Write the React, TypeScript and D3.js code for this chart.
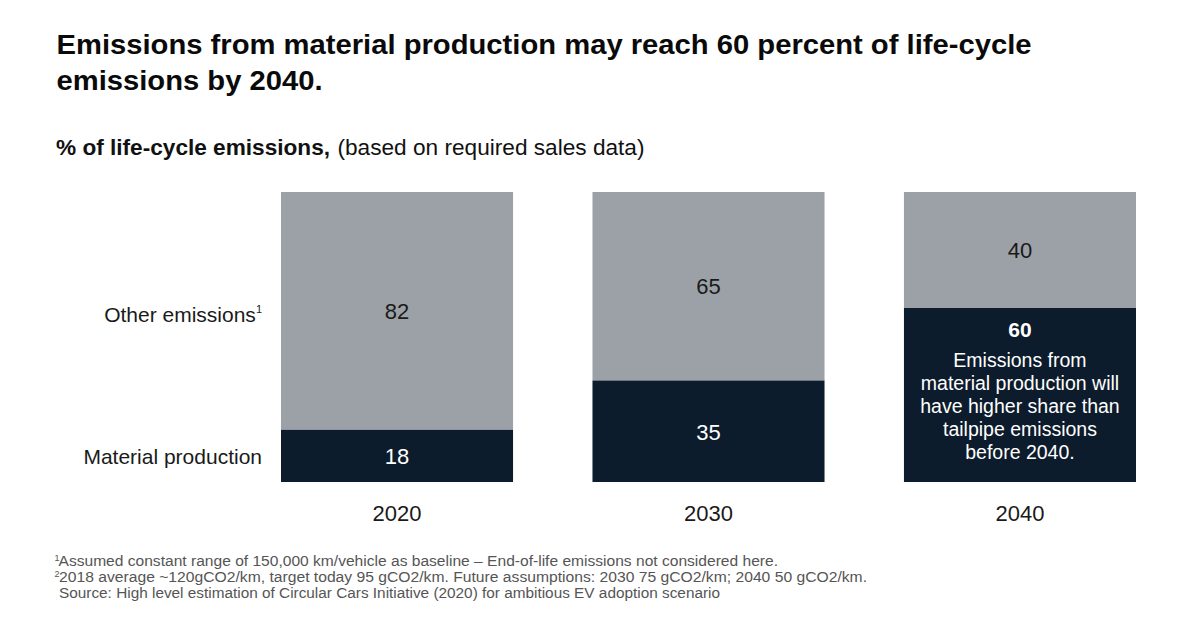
import React from "react";
import * as d3 from "d3";

const years = ["2020", "2030", "2040"];
const material = [18, 35, 60];
const other = [82, 65, 40];
const seriesLabels = ["Other emissions", "Material production"];
const annotationLines = [
  "Emissions from",
  "material production will",
  "have higher share than",
  "tailpipe emissions",
  "before 2040.",
];
const titleLines = [
  "Emissions from material production may reach 60 percent of life-cycle",
  "emissions by 2040.",
];
const subtitleBold = "% of life-cycle emissions,";
const subtitleRegular = "(based on required sales data)";
const footnotes = [
  { sup: "1", text: "Assumed constant range of 150,000 km/vehicle as baseline – End-of-life emissions not considered here." },
  { sup: "2", text: "2018 average ~120gCO2/km, target today 95 gCO2/km. Future assumptions: 2030 75 gCO2/km; 2040 50 gCO2/km." },
  { sup: "", text: "Source: High level estimation of Circular Cars Initiative (2020) for ambitious EV adoption scenario" },
];

const GRAY = "#9ca1a7";
const NAVY = "#0d1c2c";
const FONT = "'Liberation Sans', Arial, Helvetica, sans-serif";

export default function App() {
  const x = d3.scaleBand<string>().domain(years).range([281, 1136]).paddingInner(0.255).paddingOuter(0);
  const y = d3.scaleLinear().domain([0, 100]).range([482, 192]);
  const bw = x.bandwidth();

  const titleWidths = [975, 266];
  const footStarts = [58.5, 59, 59];
  const footEnds = [778, 867, 720];

  return (
    <svg
      width={1200}
      height={632}
      style={{ position: "absolute", left: 0, top: 0, background: "#fff" }}
      fontFamily={FONT}
    >
      {titleLines.map((t, i) => (
        <text
          key={i}
          x={56.5}
          y={54 + i * 36}
          fontSize={27}
          fontWeight={700}
          fill="#0a0a0a"
          textLength={titleWidths[i]}
          lengthAdjust="spacingAndGlyphs"
        >
          {t}
        </text>
      ))}
      <text x={56} y={155} fontSize={22} fontWeight={700} fill="#111" textLength={274} lengthAdjust="spacingAndGlyphs">
        {subtitleBold}
      </text>
      <text x={337.5} y={155} fontSize={22} fill="#111" textLength={307} lengthAdjust="spacingAndGlyphs">
        {subtitleRegular}
      </text>

      {years.map((yr, i) => {
        const x0 = x(yr)!;
        const cx = x0 + bw / 2;
        const mTop = y(material[i]);
        const oTop = y(material[i] + other[i]);
        const isLast = i === years.length - 1;
        return (
          <g key={yr}>
            <rect x={x0} y={oTop} width={bw} height={mTop - oTop} fill={GRAY} />
            <rect x={x0} y={mTop} width={bw} height={y(0) - mTop} fill={NAVY} />
            <text x={cx} y={(oTop + mTop) / 2 + 8} textAnchor="middle" fontSize={22} fill="#1a1a1a">
              {other[i]}
            </text>
            {!isLast && (
              <text x={cx} y={(mTop + y(0)) / 2 + 8.5} textAnchor="middle" fontSize={22} fill="#fff">
                {material[i]}
              </text>
            )}
            {isLast && (
              <g>
                <text x={cx} y={mTop + 29} textAnchor="middle" fontSize={21} fontWeight={700} fill="#fff">
                  {material[i]}
                </text>
                {annotationLines.map((l, j) => (
                  <text key={j} x={cx} y={mTop + 59 + j * 23} textAnchor="middle" fontSize={19.5} fill="#fff">
                    {l}
                  </text>
                ))}
              </g>
            )}
            <text x={cx} y={521} textAnchor="middle" fontSize={22} fill="#1a1a1a">
              {yr}
            </text>
          </g>
        );
      })}

      <text x={262} y={322} textAnchor="end" fontSize={21} fill="#1a1a1a">
        {seriesLabels[0]}
        <tspan fontSize={11} dy={-9}>1</tspan>
      </text>
      <text x={262} y={464} textAnchor="end" fontSize={21} fill="#1a1a1a">
        {seriesLabels[1]}
      </text>

      {footnotes.map((f, i) => (
        <g key={i}>
          {f.sup && (
            <text x={54.5} y={561 + i * 16} fontSize={9} fill="#555">
              {f.sup}
            </text>
          )}
          <text
            x={footStarts[i]}
            y={566 + i * 16}
            fontSize={14}
            fill="#555"
            textLength={footEnds[i] - footStarts[i]}
            lengthAdjust="spacingAndGlyphs"
          >
            {f.text}
          </text>
        </g>
      ))}
    </svg>
  );
}
